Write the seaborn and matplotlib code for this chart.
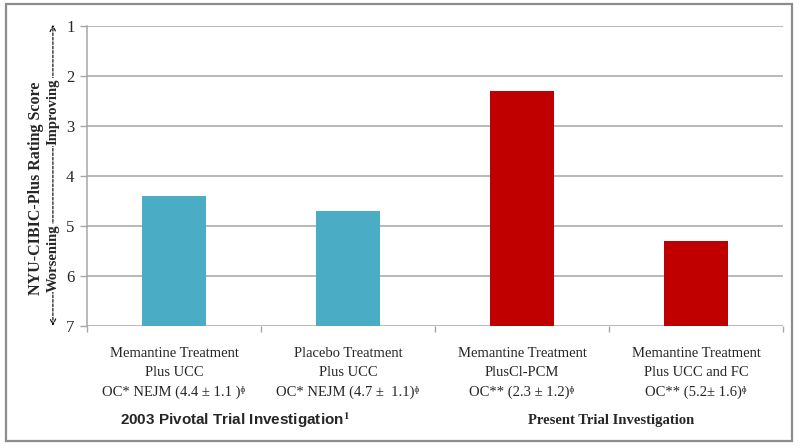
import pandas as pd
import matplotlib.pyplot as plt
import seaborn as sns
from matplotlib.patches import Rectangle

# data
labels = [
    "Memantine Treatment\nPlus UCC\nOC* NEJM (4.4 ± 1.1 )ᶲ",
    "Placebo Treatment\nPlus UCC\nOC* NEJM (4.7 ±  1.1)ᶲ",
    "Memantine Treatment\nPlusCl-PCM\nOC** (2.3 ± 1.2)ᶲ",
    "Memantine Treatment\nPlus UCC and FC\nOC** (5.2± 1.6)ᶲ",
]
scores = [4.4, 4.7, 2.3, 5.3]
groups = ["2003 Pivotal Trial Investigation", "2003 Pivotal Trial Investigation",
          "Present Trial Investigation", "Present Trial Investigation"]
bar_colors = ["#4BACC6", "#4BACC6", "#C00000", "#C00000"]
yticks = [1, 2, 3, 4, 5, 6, 7]
worst = 7

sns.set_style("white")
plt.rcParams["font.family"] = ["Liberation Serif", "DejaVu Serif", "DejaVu Sans"]
plt.rcParams["mathtext.fontset"] = "stix"

df = pd.DataFrame({"label": labels, "score": scores, "group": groups})
df["height"] = df["score"] - worst

fig = plt.figure(figsize=(8, 4.48), dpi=100)
ax = fig.add_axes([0.10875, 0.2723, 0.87, 0.6696])

sns.barplot(data=df, x="label", y="height", hue="label", palette=bar_colors,
            width=0.37, bottom=worst, errorbar=None, legend=False,
            saturation=1, linewidth=0, ax=ax, zorder=3)

ax.set_ylim(7, 1)
ax.set_xlim(-0.5, 3.5)
ax.set_yticks(yticks)
ax.set_yticklabels([str(t) for t in yticks], fontsize=12)
ax.yaxis.grid(True, color="#a6a6a6", linewidth=1.1, zorder=0)
ax.set_axisbelow(True)
ax.tick_params(axis="y", length=5, width=1, color="#a6a6a6", pad=4, left=True)
ax.set_xticks(range(4))
ax.set_xticklabels(labels, fontsize=10.5, linespacing=1.6)
ax.set_xticks([-0.5, 0.5, 1.5, 2.5, 3.5], minor=True)
ax.tick_params(axis="x", which="major", length=0, pad=15)
ax.tick_params(axis="x", which="minor", length=4, width=1, color="#a6a6a6", bottom=True)
ax.set_xlabel("")
ax.set_ylabel("")
for side in ["top", "right", "bottom"]:
    ax.spines[side].set_visible(False)
ax.spines["left"].set_color("#a6a6a6")
ax.spines["left"].set_linewidth(1.1)

# axis title and direction arrow
tr = ax.get_yaxis_transform()
ax.text(-0.073, 4.24, "NYU-CIBIC-Plus Rating Score", transform=tr, rotation=90,
        ha="center", va="center", fontsize=11.5, fontweight="bold")
ax.annotate("", xy=(-0.049, 0.92), xytext=(-0.049, 7.05), xycoords=tr, textcoords=tr,
            arrowprops=dict(arrowstyle="<->", linestyle=(0, (2.5, 1.5)), color="black",
                            linewidth=0.8), annotation_clip=False)
for word, yv in [("Improving", 2.72), ("Worsening", 5.64)]:
    ax.text(-0.049, yv, word, transform=tr, rotation=90, ha="center", va="center",
            fontsize=10.5, fontweight="bold",
            bbox=dict(facecolor="white", edgecolor="none", pad=0.3))

# group captions
fig.text(0.294, 0.0625, "2003 Pivotal Trial Investigation$^{\\mathbf{1}}$",
         ha="center", va="center", fontsize=11, fontweight="bold",
         family="Liberation Sans")
fig.text(0.764, 0.0625, "Present Trial Investigation", ha="center", va="center",
         fontsize=10.5, fontweight="bold")

# outer frame
fig.patches.append(Rectangle((0.0075, 0.0156), 0.9825, 0.9754, transform=fig.transFigure,
                             fill=False, edgecolor="#8c8c8c", linewidth=1.6))

fig.savefig("out.png", dpi=100)
